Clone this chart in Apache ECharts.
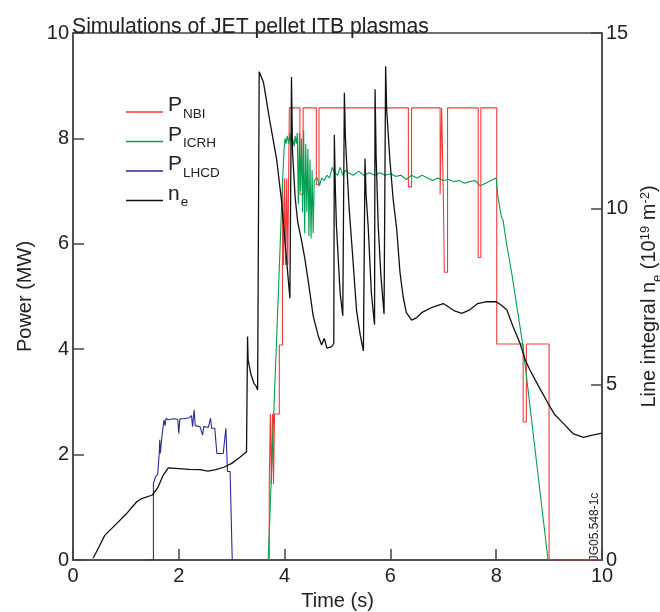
<!DOCTYPE html>
<html>
<head>
<meta charset="utf-8">
<script src="https://cdn.jsdelivr.net/npm/echarts@6/dist/echarts.min.js"></script>
<style>
html,body{margin:0;padding:0;background:#fff;}
#chart{width:660px;height:612px;}
</style>
</head>
<body>
<div id="chart"></div>
<script>
// ---- Data ----
const seriesNames = ['P_NBI', 'P_ICRH', 'P_LHCD', 'n_e'];

// Line integral density n_e (10^19 m^-2), right axis
const neTime = [0.38,0.5,0.6,0.8,1.0,1.2,1.3,1.5,1.6,1.7,1.8,2.0,2.2,2.4,2.55,2.7,2.85,3.0,3.15,3.28,
  3.30,3.31,3.36,3.42,3.46,3.49,3.52,3.6,3.72,3.85,3.94,4.04,4.1,
  4.13,4.15,4.2,4.25,4.32,4.38,4.45,4.54,4.64,4.7,4.75,4.8,4.89,4.93,
  4.94,4.96,4.98,5.05,5.1,
  5.13,5.15,5.17,5.22,5.27,5.36,5.43,5.49,
  5.52,5.54,5.58,5.64,5.7,
  5.71,5.73,5.77,5.82,5.88,
  5.91,5.93,5.99,6.05,6.12,6.18,6.24,6.3,6.4,6.5,6.6,6.8,7.0,7.1,7.2,7.35,7.5,7.65,7.8,8.0,
  8.1,8.2,8.32,8.45,8.55,8.64,8.8,8.98,9.1,9.27,9.45,9.65,9.8,10.0];
const neValue = [0.05,0.4,0.7,1.0,1.3,1.65,1.75,1.85,2.05,2.4,2.62,2.6,2.58,2.57,2.53,2.57,2.64,2.75,2.92,3.08,
  6.36,5.7,5.3,5.03,4.95,4.84,13.9,13.6,12.5,11.4,10.25,8.5,7.45,
  13.75,11.6,10.3,9.6,9.1,8.6,7.9,6.95,6.36,6.12,6.31,6.03,6.07,6.17,
  12.1,10.5,9.5,7.6,6.95,
  13.3,12.0,11.4,10.0,9.0,7.1,6.4,5.95,
  11.43,10.4,9.5,7.6,6.7,
  13.4,11.5,9.5,8.1,7.0,
  14.05,12.8,11.4,10.3,9.4,8.2,7.5,7.05,6.83,6.9,7.05,7.2,7.3,7.2,7.1,7.02,7.12,7.3,7.35,7.35,
  7.25,7.12,6.64,6.17,5.69,5.4,4.95,4.46,4.15,3.89,3.6,3.49,3.55,3.61];

// NBI power (MW), step trace
const nbiTime = [3.71,3.71,3.73,3.73,3.75,3.75,3.77,3.77,3.79,3.79,3.81,3.81,3.90,3.90,3.96,3.96,3.98,3.98,4.00,4.00,
  4.02,4.02,4.04,4.04,4.06,4.06,4.09,4.09,4.29,4.29,4.35,4.35,4.60,4.60,4.65,4.65,6.34,6.34,6.40,6.40,
  6.94,6.94,6.97,6.97,7.00,7.00,7.02,7.02,7.08,7.08,7.66,7.66,7.71,7.71,8.01,8.01,8.51,8.51,8.57,8.57,9.0,9.0,10.0];
const nbiPower = [0,1.44,1.44,2.77,2.77,1.44,1.44,2.77,2.77,1.44,1.44,2.77,2.77,4.08,4.08,7.24,7.24,5.6,5.6,7.24,
  7.24,5.6,5.6,7.24,7.24,5.6,5.6,8.58,8.58,6.94,6.94,8.58,8.58,7.12,7.12,8.58,8.58,7.08,7.08,8.58,
  8.58,6.94,6.94,8.58,8.58,6.94,6.94,5.46,5.46,8.58,8.58,5.74,5.74,8.58,8.58,4.1,4.1,2.62,2.62,4.1,4.1,0,0];

// ICRH power (MW)
const icrhTime = [3.69,3.78,3.88,3.95,3.99,4.01,4.03,4.05,4.08,4.10,4.12,4.15,4.18,4.20,4.22,4.24,
  4.26,4.28,4.30,4.32,4.34,4.36,4.38,4.40,4.42,4.44,4.46,4.48,4.50,4.52,4.54,4.56,
  4.58,4.62,4.66,4.70,4.75,4.80,4.85,4.90,4.95,5.00,5.05,5.10,5.15,5.20,5.30,5.40,5.50,5.60,5.70,5.80,5.90,
  6.00,6.10,6.20,6.30,6.40,6.50,6.60,6.70,6.80,6.90,7.00,7.10,7.20,7.30,7.40,7.50,7.60,7.70,7.80,7.90,8.00,
  8.03,8.10,8.13,8.18,8.30,8.50,8.98];
const icrhPower = [0,2.4,5.0,6.9,7.8,8.0,7.9,8.05,7.9,8.1,7.95,8.0,7.85,8.05,7.9,8.1,
  6.75,8.1,7.0,8.0,6.6,8.16,6.2,7.9,6.6,7.8,6.15,7.6,6.1,7.4,6.2,7.2,
  7.18,7.25,7.1,7.25,7.2,7.3,7.25,7.45,7.35,7.3,7.45,7.3,7.4,7.35,7.3,7.38,7.3,7.35,7.3,7.35,7.3,
  7.33,7.28,7.3,7.22,7.3,7.25,7.3,7.25,7.2,7.25,7.2,7.22,7.18,7.2,7.15,7.18,7.2,7.1,7.15,7.2,7.25,
  6.9,6.5,6.45,6.1,5.4,4.1,0];

// LHCD power (MW)
const lhcdTime = [1.40,1.52,1.52,1.56,1.60,1.63,1.64,1.65,1.68,1.70,1.72,1.74,1.76,1.80,1.90,1.98,2.00,2.02,2.10,2.20,
  2.24,2.26,2.29,2.31,2.40,2.45,2.47,2.56,2.60,2.62,2.68,2.72,2.84,2.89,2.92,2.97,3.00,3.01];
const lhcdPower = [0,0,1.45,1.58,1.62,2.02,2.28,2.02,2.34,2.5,2.66,2.55,2.69,2.66,2.68,2.67,2.4,2.68,2.68,2.7,
  2.74,2.53,2.85,2.55,2.53,2.37,2.53,2.52,2.69,2.5,2.5,2.02,2.02,2.5,1.68,1.68,1.68,0];

const xTicks = {min: 0, max: 10, interval: 2};
const yLeftTicks = {min: 0, max: 10, interval: 2};
const yRightTicks = {min: 0, max: 15, interval: 5};

// ---- Chart ----
const pairs = (t, v) => t.map((x, i) => [x, v[i]]);
const chart = echarts.init(document.getElementById('chart'), null, {renderer: 'canvas'});
const FONT = 'Liberation Sans, Arial, Helvetica, sans-serif';
const TXT = '#222';
const AX = '#444';

const legendRich = {
  p: {fontSize: 21, fontFamily: FONT, color: TXT, lineHeight: 34, verticalAlign: 'top'},
  s: {fontSize: 13.5, fontFamily: FONT, color: TXT, verticalAlign: 'top', padding: [12, 0, 0, 1]}
};
const legendLabels = {
  'P_NBI': '{p|P}{s|NBI}',
  'P_ICRH': '{p|P}{s|ICRH}',
  'P_LHCD': '{p|P}{s|LHCD}',
  'n_e': '{p|n}{s|e}'
};

const lineSeries = (name, data, color, width, yIdx) => ({
  name, type: 'line', data, yAxisIndex: yIdx || 0,
  showSymbol: false, symbol: 'none', animation: false,
  lineStyle: {color, width}, itemStyle: {color}
});

chart.setOption({
  animation: false,
  title: {
    text: 'Simulations of JET pellet ITB plasmas',
    left: 67, top: 12,
    textStyle: {fontSize: 21.2, fontWeight: 'normal', fontFamily: FONT, color: TXT}
  },
  grid: {left: 73, right: 58, top: 33, bottom: 52, containLabel: false, outerBoundsMode: 'none',
    show: true, borderColor: AX, borderWidth: 1.5, backgroundColor: 'transparent'},
  legend: {
    orient: 'vertical', left: 121, top: 90, itemGap: 3.5, padding: 5,
    itemWidth: 37, itemHeight: 1.5, icon: 'rect',
    data: seriesNames,
    formatter: n => legendLabels[n],
    textStyle: {rich: legendRich, fontFamily: FONT}
  },
  xAxis: {
    type: 'value', min: xTicks.min, max: xTicks.max, interval: xTicks.interval,
    name: 'Time (s)', nameLocation: 'middle', nameGap: 31,
    nameTextStyle: {fontSize: 20, fontFamily: FONT, color: TXT},
    axisLine: {lineStyle: {color: AX, width: 1.5}},
    axisTick: {inside: true, length: 11, lineStyle: {color: AX, width: 1.5}},
    axisLabel: {fontSize: 20, fontFamily: FONT, color: TXT, margin: 6},
    splitLine: {show: false}
  },
  yAxis: [{
    type: 'value', min: yLeftTicks.min, max: yLeftTicks.max, interval: yLeftTicks.interval,
    name: 'Power (MW)', nameLocation: 'middle', nameGap: 36, nameRotate: 90,
    nameTextStyle: {fontSize: 20, fontFamily: FONT, color: TXT},
    axisLine: {show: true, lineStyle: {color: AX, width: 1.5}},
    axisTick: {show: true, inside: true, length: 11, lineStyle: {color: AX, width: 1.5}},
    axisLabel: {fontSize: 20, fontFamily: FONT, color: TXT, margin: 4},
    splitLine: {show: false}
  }, {
    type: 'value', position: 'right', min: yRightTicks.min, max: yRightTicks.max, interval: yRightTicks.interval,
    name: '{t|Line integral n}{sb|e}{t| (10}{sp|19}{t| m}{sp|-2}{t|)}',
    nameLocation: 'middle', nameGap: 36, nameRotate: 90,
    nameTextStyle: {
      fontSize: 20, fontFamily: FONT, color: TXT,
      rich: {
        t: {fontSize: 20, fontFamily: FONT, color: TXT, lineHeight: 27, verticalAlign: 'top'},
        sb: {fontSize: 13, fontFamily: FONT, color: TXT, verticalAlign: 'top', padding: [12, 0, 0, 0]},
        sp: {fontSize: 13, fontFamily: FONT, color: TXT, verticalAlign: 'top', padding: [0, 0, 0, 0]}
      }
    },
    axisLine: {show: true, lineStyle: {color: AX, width: 1.5}},
    axisTick: {show: true, inside: true, length: 11, lineStyle: {color: AX, width: 1.5}},
    axisLabel: {fontSize: 20, fontFamily: FONT, color: TXT, margin: 4},
    splitLine: {show: false}
  }],
  graphic: [{
    type: 'text', x: 595, y: 527, rotation: Math.PI / 2,
    style: {text: 'JG05.548-1c', fontSize: 12, fontFamily: FONT, fill: TXT, align: 'center', verticalAlign: 'middle'}
  }],
  series: [
    lineSeries('P_NBI', pairs(nbiTime, nbiPower), '#f23a3a', 1.1),
    lineSeries('P_ICRH', pairs(icrhTime, icrhPower), '#00a050', 1.1),
    lineSeries('P_LHCD', pairs(lhcdTime, lhcdPower), '#2a2a96', 1.1),
    lineSeries('n_e', pairs(neTime, neValue), '#111111', 1.3, 1)
  ]
});
</script>
</body>
</html>
